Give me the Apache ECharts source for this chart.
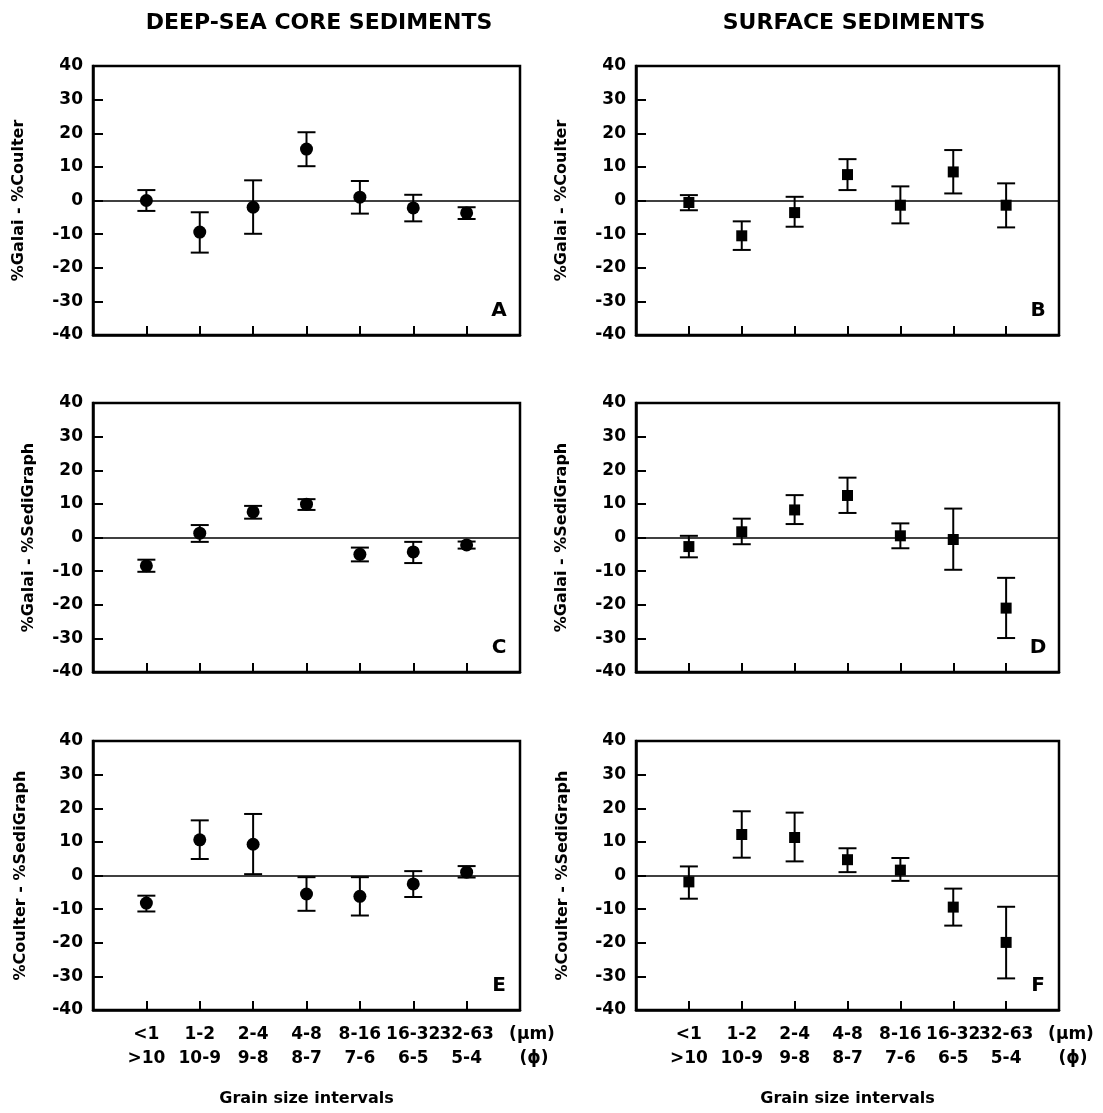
<!DOCTYPE html>
<html>
<head>
<meta charset="utf-8">
<script src="https://cdn.jsdelivr.net/npm/echarts@6/dist/echarts.min.js"></script>
<style>
html,body{margin:0;padding:0;background:#fff;}
#chart{width:1103px;height:1113px;}
</style>
</head>
<body>
<div id="chart"></div>
<script>
// grain size classes, shared by all panels
const umLabels  = ['<1', '1-2', '2-4', '4-8', '8-16', '16-32', '32-63'];
const phiLabels = ['>10', '10-9', '9-8', '8-7', '7-6', '6-5', '5-4'];
const yTicks = {min: -40, max: 40, step: 10};

// A: deep-sea cores, %Galai - %Coulter
const aMean = [0.0, -9.4, -2.0, 15.3, 1.0, -2.2, -3.7];
const aHigh = [3.1, -3.5, 6.0, 20.3, 5.8, 1.7, -2.0];
const aLow  = [-3.1, -15.5, -9.9, 10.2, -3.9, -6.2, -5.5];
// B: surface sediments, %Galai - %Coulter
const bMean = [-0.6, -10.5, -3.6, 7.7, -1.4, 8.5, -1.4];
const bHigh = [1.6, -6.2, 1.1, 12.3, 4.2, 15.0, 5.1];
const bLow  = [-2.9, -14.7, -7.8, 3.1, -6.8, 2.1, -8.0];
// C: deep-sea cores, %Galai - %SediGraph
const cMean = [-8.4, 1.3, 7.6, 9.9, -5.0, -4.3, -2.2];
const cHigh = [-6.6, 3.7, 9.4, 11.4, -3.0, -1.3, -1.2];
const cLow  = [-10.2, -1.3, 5.6, 8.2, -7.1, -7.6, -3.3];
// D: surface sediments, %Galai - %SediGraph
const dMean = [-2.7, 1.7, 8.2, 12.5, 0.5, -0.6, -21.0];
const dHigh = [0.5, 5.6, 12.6, 17.8, 4.2, 8.6, -12.0];
const dLow  = [-5.9, -2.0, 4.0, 7.3, -3.2, -9.6, -29.9];
// E: deep-sea cores, %Coulter - %SediGraph
const eMean = [-8.2, 10.6, 9.3, -5.5, -6.2, -2.5, 1.0];
const eHigh = [-6.0, 16.4, 18.3, -0.5, -0.5, 1.3, 2.8];
const eLow  = [-10.7, 4.9, 0.4, -10.5, -11.9, -6.4, -0.6];
// F: surface sediments, %Coulter - %SediGraph
const fMean = [-1.9, 12.2, 11.3, 4.7, 1.6, -9.4, -19.9];
const fHigh = [2.7, 19.1, 18.7, 8.1, 5.2, -3.9, -9.3];
const fLow  = [-6.9, 5.3, 4.2, 1.0, -1.6, -14.9, -30.6];

const FONT = 'DejaVu Sans';
const colLeft = [93, 636], colWidth = [427, 423];
const rowTop = [66, 403, 741], rowHeight = 269;

const panels = [
    {letter: 'A', col: 0, row: 0, yName: '%Galai - %Coulter',    mean: aMean, hi: aHigh, lo: aLow, gap: 66},
    {letter: 'B', col: 1, row: 0, yName: '%Galai - %Coulter',    mean: bMean, hi: bHigh, lo: bLow, gap: 66},
    {letter: 'C', col: 0, row: 1, yName: '%Galai - %SediGraph',  mean: cMean, hi: cHigh, lo: cLow, gap: 56},
    {letter: 'D', col: 1, row: 1, yName: '%Galai - %SediGraph',  mean: dMean, hi: dHigh, lo: dLow, gap: 66},
    {letter: 'E', col: 0, row: 2, yName: '%Coulter - %SediGraph', mean: eMean, hi: eHigh, lo: eLow, gap: 64},
    {letter: 'F', col: 1, row: 2, yName: '%Coulter - %SediGraph', mean: fMean, hi: fHigh, lo: fLow, gap: 65},
];

const boldText = (size) => ({color: '#000', fontFamily: FONT, fontWeight: 'bold', fontSize: size});

const grid = [], xAxis = [], yAxis = [], series = [], graphic = [];

panels.forEach((p, i) => {
    const left = colLeft[p.col], width = colWidth[p.col], top = rowTop[p.row];
    const bottomRow = p.row === 2;

    grid.push({left, top, width, height: rowHeight, show: true, borderColor: '#000', borderWidth: 2.5});

    // 7 classes spread over 8 equal steps, like the original
    xAxis.push({
        gridIndex: i, type: 'value', min: 0, max: umLabels.length + 1, interval: 1,
        axisLine: {show: true, onZero: false, lineStyle: {color: '#000', width: 2.5}},
        axisTick: {show: true, inside: true, length: 9, lineStyle: {color: '#000', width: 2}},
        splitLine: {show: false},
        axisLabel: {
            show: bottomRow, margin: 13, lineHeight: 24, ...boldText(17),
            formatter: v => (v >= 1 && v <= umLabels.length) ? umLabels[v - 1] + '\n' + phiLabels[v - 1] : ''
        },
        name: bottomRow ? 'Grain size intervals' : '',
        nameLocation: 'middle', nameGap: 81,
        nameTextStyle: boldText(16)
    });

    yAxis.push({
        gridIndex: i, type: 'value', min: yTicks.min, max: yTicks.max, interval: yTicks.step,
        axisLine: {show: true, onZero: false, lineStyle: {color: '#000', width: 2.5}},
        axisTick: {show: true, inside: true, length: 10, lineStyle: {color: '#000', width: 2}},
        splitLine: {show: false},
        axisLabel: {margin: 10, ...boldText(17)},
        name: p.yName, nameLocation: 'middle', nameRotate: 90, nameGap: p.gap,
        nameTextStyle: boldText(16)
    });

    // error bars
    series.push({
        type: 'custom', xAxisIndex: i, yAxisIndex: i, silent: true, z: 2,
        encode: {x: 0, y: [1, 2]},
        data: p.mean.map((m, k) => [k + 1, p.lo[k], p.hi[k]]),
        renderItem: (params, api) => {
            const hi = api.coord([api.value(0), api.value(2)]);
            const lo = api.coord([api.value(0), api.value(1)]);
            const half = 9;
            const style = {stroke: '#000', lineWidth: 2};
            return {type: 'group', children: [
                {type: 'line', shape: {x1: hi[0], y1: hi[1], x2: lo[0], y2: lo[1]}, style},
                {type: 'line', shape: {x1: hi[0] - half, y1: hi[1], x2: hi[0] + half, y2: hi[1]}, style},
                {type: 'line', shape: {x1: lo[0] - half, y1: lo[1], x2: lo[0] + half, y2: lo[1]}, style}
            ]};
        }
    });

    // mean values + zero line
    series.push({
        type: 'scatter', xAxisIndex: i, yAxisIndex: i, silent: true, z: 3,
        data: p.mean.map((m, k) => [k + 1, m]),
        symbol: p.col === 0 ? 'circle' : 'rect',
        symbolSize: p.col === 0 ? 13 : 11,
        itemStyle: {color: '#000', opacity: 1},
        markLine: {
            silent: true, symbol: 'none', label: {show: false},
            lineStyle: {color: '#000', width: 1.5, type: 'solid'},
            data: [{yAxis: 0}]
        }
    });

    // panel letter, bottom right inside the frame
    graphic.push({
        type: 'text', x: left + width - 21, y: top + rowHeight - 24,
        style: {text: p.letter, font: 'bold 20px "DejaVu Sans"', fill: '#000', textAlign: 'center', textVerticalAlign: 'middle'}
    });

    if (bottomRow) {
        const ux = left + width + 12;
        graphic.push({type: 'text', x: ux, y: top + rowHeight + 25,
            style: {text: '(µm)', font: 'bold 17px "DejaVu Sans"', fill: '#000', textAlign: 'center', textVerticalAlign: 'middle'}});
        graphic.push({type: 'text', x: ux + 2, y: top + rowHeight + 49,
            style: {text: '(ϕ)', font: 'bold 17px "DejaVu Sans"', fill: '#000', textAlign: 'center', textVerticalAlign: 'middle'}});
    }
});

// column headings
graphic.push({type: 'text', x: 319, y: 23,
    style: {text: 'DEEP-SEA CORE SEDIMENTS', font: 'bold 22px "DejaVu Sans"', fill: '#000', textAlign: 'center', textVerticalAlign: 'middle'}});
graphic.push({type: 'text', x: 854, y: 23,
    style: {text: 'SURFACE SEDIMENTS', font: 'bold 22px "DejaVu Sans"', fill: '#000', textAlign: 'center', textVerticalAlign: 'middle'}});

const chart = echarts.init(document.getElementById('chart'), null, {renderer: 'canvas'});
chart.setOption({
    backgroundColor: '#fff',
    animation: false,
    grid, xAxis, yAxis, series, graphic
});
</script>
</body>
</html>
